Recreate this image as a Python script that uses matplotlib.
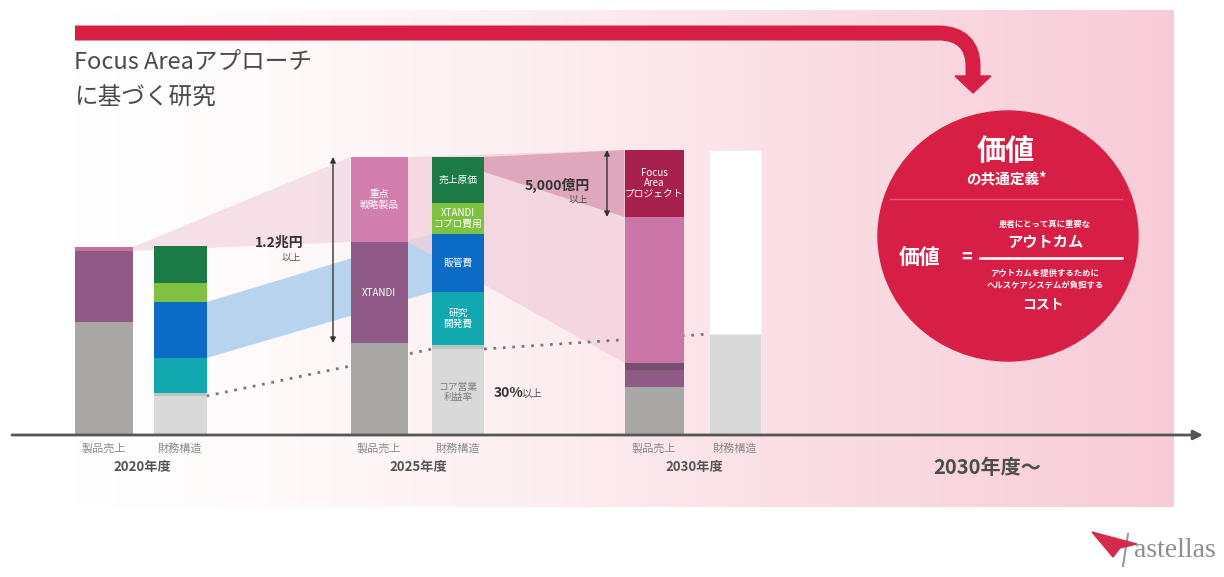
import numpy as np
import matplotlib.pyplot as plt
from matplotlib.patches import Polygon, Ellipse, PathPatch
from matplotlib.path import Path
from matplotlib.colors import LinearSegmentedColormap

plt.rcParams['font.family'] = ['Noto Sans CJK JP', 'DejaVu Sans']

# ############################## data: stacked segment heights, bottom -> top ##############################
years = ['2020年度', '2025年度', '2030年度']
bar_kinds = ['製品売上', '財務構造']

sales_2020 = [113, 71, 4]               # base products, XTANDI, key strategic products
finance_2020 = [39, 3, 35, 56, 19, 37]  # core profit, gap, R&D, SG&A, XTANDI co-pro, COGS
sales_2025 = [92, 101, 85]
finance_2025 = [86, 4, 53, 58, 31, 46]
sales_2030 = [48, 17, 7, 146, 67]        # ..., key products, Focus Area projects
finance_2030 = [101, 184]

finance_2025_labels = ['コア営業\n利益率', '', '研究\n開発費', '販管費', 'XTANDI\nコプロ費用', '売上原価']
sales_2025_labels = ['', 'XTANDI', '重点\n戦略製品']
sales_2030_labels = ['', '', '', '', 'Focus\nArea\nプロジェクト']

# ############################## colours / layout ##############################
GRAY, PURPLE, LGRAY = '#a9a6a6', '#8f5b86', '#d9d9d9'
DGREEN, LGREEN, BLUE, TEAL, SEP = '#1b7a45', '#7fc242', '#0b6bc5', '#12a8b0', '#b9c6c6'
RED = '#d71f45'

bars = [
    dict(x=104, w=58, vals=sales_2020, colors=[GRAY, PURPLE, '#c86fa0']),
    dict(x=180, w=53, vals=finance_2020, colors=[LGRAY, SEP, TEAL, BLUE, LGREEN, DGREEN]),
    dict(x=379, w=57, vals=sales_2025, colors=[GRAY, PURPLE, '#d27fb0'], labels=sales_2025_labels),
    dict(x=458, w=52, vals=finance_2025, colors=[LGRAY, SEP, TEAL, BLUE, LGREEN, DGREEN],
         labels=finance_2025_labels),
    dict(x=654, w=59, vals=sales_2030, colors=[GRAY, PURPLE, '#76506c', '#cc76a8', '#a8204d'],
         labels=sales_2030_labels),
    dict(x=735, w=52, vals=finance_2030, colors=[LGRAY, 'white']),
]

fig = plt.figure(figsize=(12.24, 5.77), dpi=100)

# background axes in pixel coordinates
bg = fig.add_axes([0, 0, 1, 1])
bg.set_xlim(0, 1224)
bg.set_ylim(577, 0)
bg.axis('off')

cmap = LinearSegmentedColormap.from_list('bgpink', ['#ffffff', '#fdf0f2', '#fadbe2', '#f8ccd7'])
grad = np.linspace(0, 1, 400)[None, :] ** 1.2
bg.imshow(grad, cmap=cmap, extent=(65, 1174, 507, 10), aspect='auto', zorder=0)

# red arrow on top
verts = [(75, 33), (938, 33), (962, 33), (973, 46), (973, 66), (973, 80)]
codes = [Path.MOVETO, Path.LINETO, Path.CURVE4, Path.CURVE4, Path.CURVE4, Path.LINETO]
bg.add_patch(PathPatch(Path(verts, codes), fill=False, edgecolor=RED, lw=10.8, capstyle='butt', zorder=2))
bg.add_patch(Polygon([(955, 76), (991, 76), (973, 93)], closed=True, color=RED, zorder=2))

bg.text(74, 63, 'Focus Areaアプローチ', fontsize=17, color='#4a4a4a', va='center')
bg.text(74, 98, 'に基づく研究', fontsize=17, color='#4a4a4a', va='center')

# value circle
bg.add_patch(Ellipse((1008, 236), 260, 250, color=RED, zorder=2))
bg.text(1006, 151, '価値', fontsize=21, color='white', weight='bold', ha='center', va='center', zorder=3)
bg.text(1006, 178, 'の共通定義*', fontsize=10.5, color='white', weight='bold', ha='center', va='center', zorder=3)
bg.plot([890, 1122], [199, 199], color='#ea5a74', lw=1, zorder=3)
bg.text(1045, 225, '患者にとって真に重要な', fontsize=6, color='white', weight='bold', ha='center', va='center', zorder=3)
bg.text(1045, 242, 'アウトカム', fontsize=11, color='white', weight='bold', ha='center', va='center', zorder=3)
bg.plot([980, 1122], [258, 258], color='white', lw=1.8, zorder=3)
bg.text(920, 257, '価値', fontsize=15, color='white', weight='bold', ha='center', va='center', zorder=3)
bg.text(967, 257, '=', fontsize=13, color='white', weight='bold', ha='center', va='center', zorder=3)
bg.text(1045, 273, 'アウトカムを提供するために', fontsize=6, color='white', weight='bold', ha='center', va='center', zorder=3)
bg.text(1045, 285, 'ヘルスケアシステムが負担する', fontsize=6, color='white', weight='bold', ha='center', va='center', zorder=3)
bg.text(1043, 304, 'コスト', fontsize=10, color='white', weight='bold', ha='center', va='center', zorder=3)

bg.text(933, 467, '2030年度～', fontsize=14.5, color='#4d4d4d', weight='bold', ha='left', va='center', zorder=3)

# logo
bg.add_patch(Polygon([(1092, 532), (1137, 544), (1120, 548), (1113, 557)], closed=True, color='#d42a4c', zorder=3))
bg.plot([1128, 1123], [534, 566], color='#9a9a9a', lw=1.5, zorder=2)
bg.text(1134, 557, 'astellas', fontsize=20, color='#8e8e8e', family='Liberation Serif', va='baseline', zorder=3)

# chart axes: y = height above the time axis
ax = fig.add_axes([0, 0, 1, 1])
ax.set_xlim(0, 1224)
ax.set_ylim(-142, 435)
ax.patch.set_alpha(0)
ax.axis('off')

edges = []
for b in bars:
    vals = np.array(b['vals'])
    bottoms = np.concatenate([[0], np.cumsum(vals)[:-1]])
    ax.bar([b['x']] * len(vals), vals, width=b['w'], bottom=bottoms, color=b['colors'], zorder=3,
           edgecolor='#eeeeee' if 'white' in b['colors'] else 'none', linewidth=0.6)
    for lab, bt, h in zip(b.get('labels', []), bottoms, vals):
        if lab:
            c = '#7d7d7d' if bt == 0 else 'white'
            ax.text(b['x'], bt + h / 2, lab, fontsize=7, color=c, ha='center', va='center',
                    linespacing=1.05, zorder=4)
    edges.append((b['x'] - b['w'] / 2, b['x'] + b['w'] / 2, bottoms, np.cumsum(vals)))

s20, f20, s25, f25, s30, f30 = edges

# connecting wedges
ax.fill([s20[1], s25[0], s25[0], s20[1]], [s20[3][-1], s25[3][-1], s25[2][-1], s20[2][-1]],
        color='#f4d9e3', alpha=0.8, lw=0, zorder=1)
ax.fill([f20[1], f25[0], f25[0], f20[1]], [f20[3][3], f25[3][3], f25[2][3], f20[2][3]],
        color='#b8d3ee', lw=0, zorder=1)
ax.fill([s25[1], s30[0], s30[0], s25[1]], [s25[3][-1], s30[3][-1], s30[2][3], s25[2][-1]],
        color='#f2cfdc', alpha=0.75, lw=0, zorder=1)
ax.fill([f25[1], s30[0], s30[0], f25[1]], [f25[3][-1], s30[3][-1], s30[2][-1], f25[3][-1] - 15],
        color='#dda2b8', alpha=0.9, lw=0, zorder=2)

# dotted core-profit line
ax.plot([f20[1], f25[0]], [f20[3][0], f25[3][0]], ls=(0, (1, 2.4)), color='#7a7a7a', lw=2, zorder=2)
ax.plot([f25[1], f30[0]], [f25[3][0], f30[3][0]], ls=(0, (1, 2.4)), color='#7a7a7a', lw=2, zorder=2)

# range arrows
ax.annotate('', xy=(333, s25[3][-1]), xytext=(333, s25[3][0]),
            arrowprops=dict(arrowstyle='<|-|>', color='#333333', lw=1, mutation_scale=8, shrinkA=0, shrinkB=0))
ax.annotate('', xy=(607, s30[3][-1]), xytext=(607, s30[2][-1]),
            arrowprops=dict(arrowstyle='<|-|>', color='#333333', lw=1, mutation_scale=8, shrinkA=0, shrinkB=0))
ax.text(303, 192, '1.2兆円', fontsize=10, weight='bold', color='#333333', ha='right', va='center')
ax.text(301, 177, '以上', fontsize=7, color='#555555', ha='right', va='center')
ax.text(590, 250, '5,000億円', fontsize=10, weight='bold', color='#333333', ha='right', va='center')
ax.text(588, 235, '以上', fontsize=7, color='#555555', ha='right', va='center')
ax.text(494, 42, '30%', fontsize=10, weight='bold', color='#333333', ha='left', va='center')
ax.text(522, 41, '以上', fontsize=7.5, color='#555555', ha='left', va='center')

# time axis
ax.annotate('', xy=(1203, 0), xytext=(12, 0),
            arrowprops=dict(arrowstyle='-|>', color='#555555', lw=2, mutation_scale=14, shrinkA=0, shrinkB=0),
            zorder=5)

# bottom labels
for i, b in enumerate(bars):
    ax.text(b['x'], -14, bar_kinds[i % 2], fontsize=8, color='#8a8a8a', ha='center', va='center')
for i, yr in enumerate(years):
    xm = (bars[2 * i]['x'] + bars[2 * i + 1]['x']) / 2
    ax.text(xm, -32, yr, fontsize=9.5, weight='bold', color='#555555', ha='center', va='center')

fig.savefig('out.png', dpi=100)
